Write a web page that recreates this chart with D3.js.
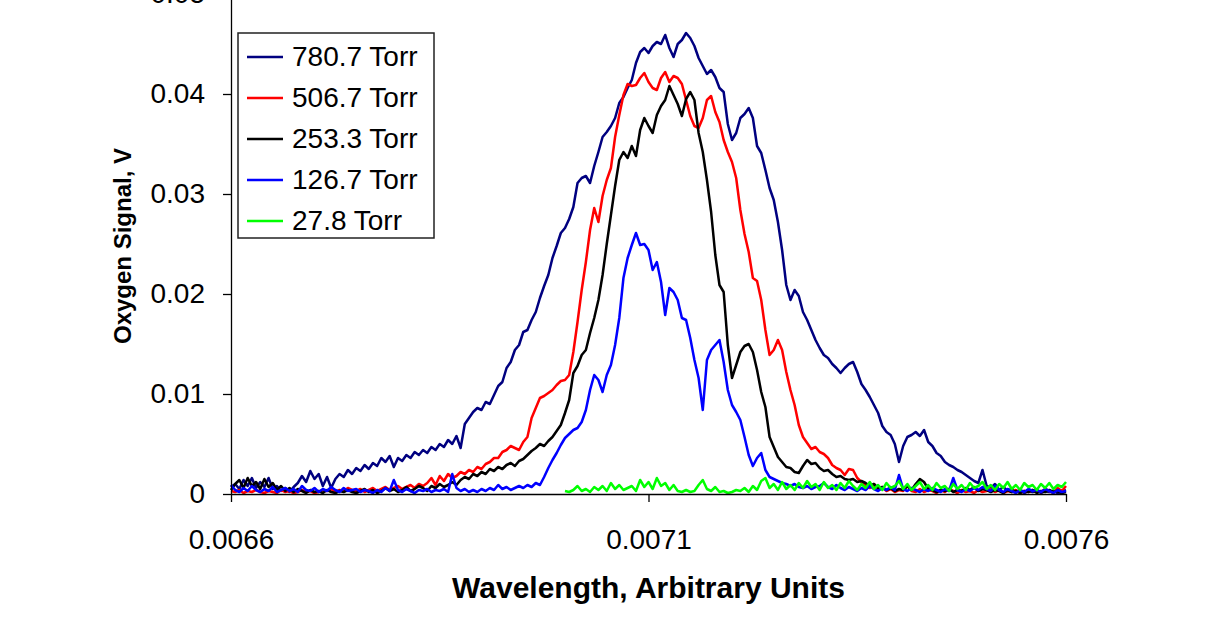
<!DOCTYPE html>
<html>
<head>
<meta charset="utf-8">
<script src="https://cdn.jsdelivr.net/npm/d3@7"></script>
<style>
 body { margin: 0; background: #fff; }
 text { font-family: "Liberation Sans", Arial, sans-serif; }
</style>
</head>
<body>
<div id="chart"></div>
<script>
// wavelength sampling (arbitrary units): 0.0066 .. 0.0076, one reading every 0.000005
var wlStart = 0.0066, wlStep = 0.000005;
// the 27.8 Torr trace only starts at 0.0070
var greenStart = 0.0070;

var seriesNames = ["780.7 Torr", "506.7 Torr", "253.3 Torr", "126.7 Torr", "27.8 Torr"];
var seriesColors = ["#000080", "#ff0000", "#000000", "#0000ff", "#00ff00"];

// oxygen signal, mV
var torr780 = [
 0.7,1.0,0.5,1.4,0.8,1.6,0.6,1.2,0.7,1.6,0.5,0.8,0.3,0.6,0.2,0.7,1.1,1.8,1.2,2.3,
 1.5,2.0,0.8,1.7,0.6,1.5,2.0,1.7,2.4,2.0,2.6,2.3,2.9,2.5,3.1,2.8,3.6,3.2,3.8,2.7,
 3.6,3.3,3.9,3.6,4.2,3.9,4.4,4.1,4.7,4.4,5.0,4.7,5.4,5.0,5.8,4.6,7.0,7.6,8.2,8.6,
 8.4,9.2,9.0,9.9,10.8,11.2,12.6,13.2,14.4,14.9,16.2,16.4,17.4,18.2,19.6,20.8,21.9,23.6,24.8,26.1,
 26.6,27.5,28.7,31.1,31.6,31.8,31.1,32.8,34.2,35.7,36.2,36.8,37.6,39.1,39.7,40.6,41.4,43.1,44.2,44.6,
 44.1,44.8,45.2,45.0,45.9,44.6,43.7,45.0,45.4,46.1,45.6,44.8,43.6,42.8,42.0,42.4,41.7,40.6,40.2,37.0,
 35.4,36.1,37.6,38.0,38.6,37.6,34.8,34.1,32.4,30.6,29.4,27.2,24.4,20.9,19.4,20.4,19.8,18.2,17.4,16.4,
 15.4,14.6,13.9,13.6,13.0,12.6,12.1,12.6,13.0,13.2,12.2,11.0,10.4,9.7,8.9,8.1,6.8,6.2,5.9,5.0,
 3.2,4.8,5.7,5.9,6.2,5.8,6.4,5.2,4.8,4.1,3.8,3.2,2.9,2.7,2.4,2.2,1.9,1.6,1.3,1.1,
 2.4,0.8,0.6,1.0,0.4,0.7,0.3,0.5,0.2,0.4,0.1,0.3,0.2,0.4,0.1,0.3,0.2,0.3,0.1,0.2,0.4
];
var torr506 = [
 0.3,0.2,0.4,0.1,0.3,0.2,0.4,0.2,0.1,0.3,0.2,0.1,0.4,0.2,0.3,0.1,0.2,0.4,0.2,0.3,
 0.1,0.2,0.4,0.3,0.5,0.2,0.4,0.3,0.6,0.4,0.3,0.5,0.2,0.4,0.6,0.3,0.5,0.7,0.4,0.6,
 0.8,0.5,0.7,0.9,0.6,1.0,0.8,1.1,1.6,0.9,1.8,1.3,2.0,1.6,1.8,2.2,2.0,2.4,2.2,2.7,
 2.5,3.0,3.2,3.6,3.6,4.2,4.4,4.8,4.6,4.4,5.2,5.7,7.6,8.6,9.6,9.8,10.1,10.4,10.9,11.3,
 11.4,11.9,14.2,17.2,20.4,23.2,26.4,28.6,27.2,29.8,31.4,32.6,35.7,37.9,39.9,41.0,40.8,40.9,41.6,42.1,
 41.2,40.6,40.4,41.6,42.2,41.2,41.8,41.6,41.0,39.4,37.8,36.8,36.6,37.6,39.4,39.8,38.2,37.2,35.4,34.2,
 33.2,31.6,28.4,26.0,24.2,21.6,21.3,19.4,16.4,13.9,14.4,15.4,14.4,12.2,10.4,8.9,6.9,5.7,5.1,4.5,
 4.7,4.2,4.0,3.6,2.9,2.6,2.4,1.9,2.5,2.4,1.6,1.2,0.9,0.6,1.0,0.4,0.7,0.3,0.5,0.2,
 0.4,0.3,0.8,0.3,0.2,0.5,0.2,0.4,0.3,0.1,0.4,0.2,0.5,0.3,0.1,0.4,0.2,0.3,0.1,0.4,
 0.2,0.3,0.5,0.2,0.4,0.1,0.3,0.2,0.4,0.1,0.3,0.2,0.4,0.3,0.2,0.5,0.3,0.1,0.6,0.3,0.8
];
var torr253 = [
 0.4,1.0,1.4,0.6,1.6,0.8,1.2,0.5,1.5,0.7,1.1,0.4,0.8,0.3,0.6,0.2,0.5,0.3,0.1,0.4,
 0.2,0.3,0.1,0.4,0.2,0.1,0.3,0.2,0.4,0.2,0.1,0.3,0.5,0.2,0.4,0.1,0.3,0.6,0.3,0.5,
 0.2,0.4,0.7,0.3,0.5,0.8,0.6,0.3,0.8,0.6,1.0,0.7,0.9,1.2,0.9,1.4,1.7,1.5,2.0,1.8,
 2.2,2.0,2.5,2.3,2.7,2.5,2.9,3.1,2.8,3.3,3.5,3.9,4.3,4.6,5.0,4.8,5.3,5.7,6.3,6.9,
 8.1,9.4,12.1,12.8,13.9,14.4,16.1,17.6,19.4,21.9,25.0,27.9,30.8,33.4,34.2,33.6,34.8,33.8,36.4,37.6,
 36.8,36.1,37.9,38.8,39.4,40.8,39.9,39.0,37.8,39.5,40.2,39.4,36.1,34.2,31.4,28.2,23.9,20.9,20.2,14.9,
 11.6,12.9,14.2,14.8,15.0,14.2,12.4,10.2,8.7,5.7,4.7,3.7,3.2,2.7,2.6,2.2,2.1,2.8,3.4,3.0,
 3.1,2.6,2.3,2.4,2.0,1.7,1.8,1.5,1.4,1.5,1.2,1.3,1.1,0.8,1.0,0.6,0.7,0.4,0.6,0.3,
 0.5,0.4,0.8,0.4,1.0,1.5,1.2,0.5,0.4,0.2,0.4,0.3,0.5,0.2,0.4,0.3,0.6,0.4,0.7,0.3,
 0.5,0.4,0.2,0.4,0.3,0.1,0.4,0.2,0.3,0.1,0.3,0.2,0.4,0.1,0.3,0.2,0.4,0.2,0.3,0.1,0.2
];
var torr126 = [
 0.9,0.4,0.2,0.6,0.3,0.8,0.4,0.2,0.5,0.3,0.7,0.2,0.4,0.6,0.3,0.5,0.2,0.8,0.4,0.3,
 0.6,0.2,0.5,0.3,0.7,0.4,0.2,0.6,0.3,0.4,0.5,0.2,0.4,0.3,0.1,0.4,0.2,0.6,0.3,1.4,
 0.4,0.2,0.5,0.3,0.1,0.4,0.3,0.5,0.2,0.4,0.3,0.5,0.2,2.0,0.6,0.3,0.5,0.2,0.4,0.2,
 0.5,0.3,0.6,0.4,0.9,0.5,0.7,0.4,0.6,0.8,0.6,0.9,0.7,1.1,0.9,1.7,2.6,3.4,4.1,4.9,
 5.6,6.0,6.4,6.6,7.2,8.4,10.4,11.9,11.4,10.2,11.9,12.9,14.9,17.6,21.6,23.6,24.9,26.1,24.9,25.0,
 24.4,22.4,23.2,21.2,17.9,20.6,20.2,19.4,17.6,17.4,15.6,13.4,11.6,8.4,13.4,14.4,14.9,15.4,13.2,10.4,
 8.9,8.2,7.4,5.7,3.9,2.8,3.6,4.1,2.4,1.7,1.5,1.3,1.1,1.0,0.8,1.0,0.7,0.6,0.8,0.5,
 0.7,0.8,1.1,0.7,0.5,0.9,0.6,0.4,0.7,0.5,0.3,0.6,0.4,0.8,0.5,0.3,0.6,0.4,0.7,0.4,
 1.9,0.5,0.3,0.6,0.4,0.2,0.5,0.3,0.6,0.4,0.2,0.5,0.3,1.6,0.4,0.2,0.5,0.3,0.6,0.4,
 0.7,0.5,0.3,0.8,0.4,0.2,0.5,0.3,0.1,0.4,0.2,0.5,0.3,0.4,0.2,0.5,0.3,0.1,0.4,0.2,0.3
];
var torr27 = [
 0.3,0.2,0.4,0.8,0.3,0.5,0.2,0.7,0.4,0.8,0.3,1.1,0.5,0.9,0.4,0.6,0.8,0.3,1.4,0.7,
 1.2,0.5,1.6,0.8,1.1,0.4,0.9,0.3,0.2,0.4,0.2,0.3,0.9,1.4,0.5,0.3,0.7,0.2,0.3,0.1,
 0.2,0.4,0.3,0.6,0.2,0.8,0.4,1.3,1.6,0.6,1.0,0.4,1.2,0.5,0.9,0.4,1.1,0.6,1.3,0.7,
 1.0,0.4,1.2,0.6,0.9,0.4,1.1,0.6,1.3,0.8,0.4,1.0,0.6,1.2,0.5,0.9,0.4,1.1,0.6,0.8,
 1.3,0.5,1.0,0.4,0.8,1.2,0.5,0.9,0.4,1.1,0.6,0.8,0.3,1.0,0.5,0.9,0.4,1.1,0.6,0.8,
 1.2,0.5,0.9,0.4,1.0,0.6,1.2,0.5,0.9,0.4,1.1,0.7,0.9,0.4,1.0,0.6,1.1,0.5,0.9,0.7,1.2
];

var xTicks = [0.0066, 0.0071, 0.0076];
var yTicks = [0, 0.01, 0.02, 0.03, 0.04, 0.05];

// set the dimensions and margins of the graph
var margin = {top: -6, right: 140, bottom: 123, left: 231},
    width = 1206 - margin.left - margin.right,
    height = 617 - margin.top - margin.bottom;

var x = d3.scaleLinear().domain([0.0066, 0.0076]).range([0, width]);
var y = d3.scaleLinear().domain([0, 0.05]).range([height, 0]);

var svg = d3.select("#chart").append("svg")
  .attr("width", 1206)
  .attr("height", 617)
  .style("display", "block")
  .append("g")
  .attr("transform", "translate(" + margin.left + "," + margin.top + ")");

// turn each mV list into points
function toPoints(vals, start) {
  return vals.map(function(v, i) {
    return {w: start + i * wlStep, v: v / 1000};
  });
}
var allSeries = [
  toPoints(torr780, wlStart),
  toPoints(torr506, wlStart),
  toPoints(torr253, wlStart),
  toPoints(torr126, wlStart),
  toPoints(torr27, greenStart)
];

var valueline = d3.line()
  .x(function(d) { return x(d.w); })
  .y(function(d) { return y(d.v); });

svg.selectAll(".trace")
  .data(allSeries)
  .enter().append("path")
  .attr("class", "trace")
  .attr("fill", "none")
  .attr("stroke", function(d, i) { return seriesColors[i]; })
  .attr("stroke-width", 2.5)
  .attr("stroke-linejoin", "round")
  .attr("d", valueline);

// Add the X Axis
var xAxis = svg.append("g")
  .attr("transform", "translate(0," + height + ")")
  .call(d3.axisBottom(x).tickValues(xTicks).tickSize(8).tickSizeOuter(0)
    .tickPadding(27).tickFormat(d3.format(".4f")));

// Add the Y Axis
var yAxis = svg.append("g")
  .call(d3.axisLeft(y).tickValues(yTicks).tickSize(8).tickSizeOuter(0)
    .tickPadding(18).tickFormat(function(d) { return d === 0 ? "0" : d3.format(".2f")(d); }));

[xAxis, yAxis].forEach(function(a) {
  a.attr("font-family", null).attr("font-size", null);
  a.selectAll("text").style("font-size", "28px").attr("fill", "#000");
  a.selectAll("line, path").attr("stroke", "#000").attr("stroke-width", 1.3);
});

svg.append("text")
  .attr("transform", "translate(" + (width / 2) + "," + (598 - margin.top) + ")")
  .style("text-anchor", "middle")
  .style("font-size", "30px")
  .style("font-weight", "bold")
  .text("Wavelength, Arbitrary Units");

svg.append("text")
  .attr("transform", "translate(" + (131 - margin.left) + "," + (246 - margin.top) + ") rotate(-90)")
  .style("text-anchor", "middle")
  .style("font-size", "24px")
  .style("font-weight", "bold")
  .text("Oxygen Signal, V");

// legend
var legend = svg.append("g")
  .attr("transform", "translate(" + (238 - margin.left) + "," + (33 - margin.top) + ")");
legend.append("rect")
  .attr("width", 196).attr("height", 205)
  .attr("fill", "#fff").attr("stroke", "#222").attr("stroke-width", 1.5);
seriesNames.forEach(function(name, i) {
  var ly = 24 + i * 41;
  legend.append("line")
    .attr("x1", 9).attr("x2", 45).attr("y1", ly).attr("y2", ly)
    .attr("stroke", seriesColors[i]).attr("stroke-width", 2.5);
  legend.append("text")
    .attr("x", 54).attr("y", ly + 9)
    .style("font-size", "28px")
    .text(name);
});
</script>
</body>
</html>
